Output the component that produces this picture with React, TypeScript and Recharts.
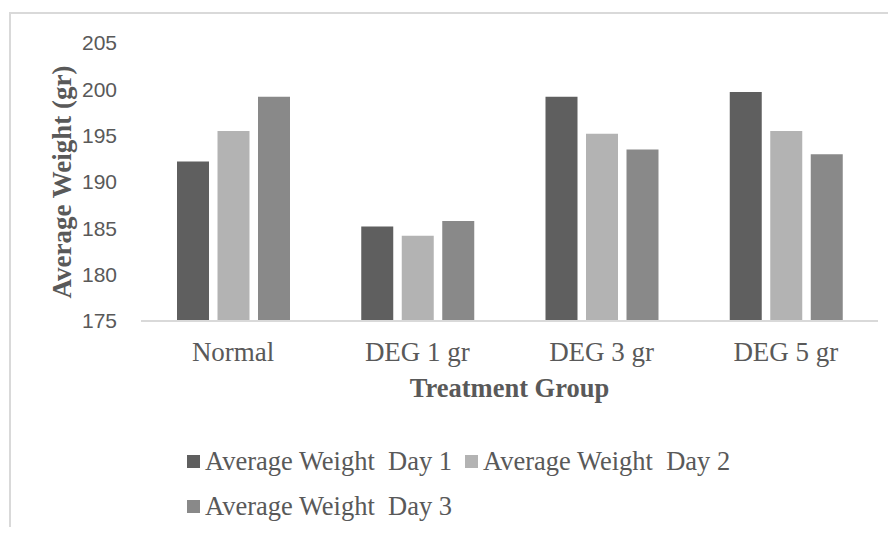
import { Bar, BarChart, XAxis, YAxis, Legend, Label } from "recharts";

const groups = ["Normal", "DEG 1 gr", "DEG 3 gr", "DEG 5 gr"];
const day1 = [192.2, 185.2, 199.2, 199.7];
const day2 = [195.5, 184.2, 195.2, 195.5];
const day3 = [199.2, 185.8, 193.5, 193.0];
const yTicks = [175, 180, 185, 190, 195, 200, 205];

const seriesNames = ["Average Weight  Day 1", "Average Weight  Day 2", "Average Weight  Day 3"];
const seriesColors = ["#5f5f5f", "#b3b3b3", "#898989"];

const data = groups.map((g, i) => ({ group: g, day1: day1[i], day2: day2[i], day3: day3[i] }));

const textColor = "#595959";
const serif = "'Liberation Serif', 'Times New Roman', serif";
const sans = "'Liberation Sans', Arial, sans-serif";

function LegendBox() {
  return (
    <div style={{ display: "flex", flexWrap: "wrap", columnGap: 13, fontFamily: serif, fontSize: 26.5, color: textColor }}>
      {seriesNames.map((name, i) => (
        <div key={name} style={{ display: "flex", alignItems: "center", height: 45, whiteSpace: "pre" }}>
          <span style={{ display: "inline-block", width: 13, height: 13, background: seriesColors[i], marginRight: 5 }} />
          {name}
        </div>
      ))}
    </div>
  );
}

export default function App() {
  return (
    <div style={{ position: "relative", width: 896, height: 535, margin: -8, overflow: "hidden", background: "#fff" }}>
      <div
        style={{
          position: "absolute", left: 9, top: 12, width: 920, height: 560,
          borderTop: "2px solid #d9d9d9", borderLeft: "2px solid #d9d9d9", pointerEvents: "none",
        }}
      />
      <BarChart
        width={896}
        height={535}
        data={data}
        margin={{ top: 43, right: 18, left: 0, bottom: 174 }}
        barSize={32}
        barGap={8.5}
      >
        <XAxis
          dataKey="group"
          height={40}
          tickLine={false}
          axisLine={{ stroke: "#d9d9d9", strokeWidth: 2 }}
          tickMargin={15}
          tick={{ fontSize: 27, fill: textColor, fontFamily: serif }}
        >
          <Label
            content={({ viewBox }: any) => {
              const cx = viewBox.x + viewBox.width / 2;
              const cy = viewBox.y + viewBox.height + 36;
              return (
                <text x={cx} y={cy} textAnchor="middle" fontFamily={serif} fontWeight="bold" fontSize={26.5} fill={textColor}>
                  Treatment Group
                </text>
              );
            }}
          />
        </XAxis>
        <YAxis
          width={141}
          domain={[175, 205]}
          ticks={yTicks}
          interval={0}
          tickLine={false}
          axisLine={false}
          tickMargin={18}
          tick={{ fontSize: 21, fill: textColor, fontFamily: sans }}
        >
          <Label
            content={({ viewBox }: any) => {
              const cx = viewBox.x + 62;
              const cy = viewBox.y + viewBox.height / 2;
              return (
                <text
                  x={cx}
                  y={cy}
                  transform={`rotate(-90 ${cx} ${cy})`}
                  textAnchor="middle"
                  dominantBaseline="central"
                  fontFamily={serif}
                  fontWeight="bold"
                  fontSize={27}
                  fill={textColor}
                >
                  Average Weight (gr)
                </text>
              );
            }}
          />
        </YAxis>
        <Legend
          layout="horizontal"
          verticalAlign="middle"
          align="center"
          wrapperStyle={{ left: 187, top: 439, width: 600 }}
          content={() => <LegendBox />}
        />
        <Bar dataKey="day1" name={seriesNames[0]} fill={seriesColors[0]} isAnimationActive={false} />
        <Bar dataKey="day2" name={seriesNames[1]} fill={seriesColors[1]} isAnimationActive={false} />
        <Bar dataKey="day3" name={seriesNames[2]} fill={seriesColors[2]} isAnimationActive={false} />
      </BarChart>
    </div>
  );
}
